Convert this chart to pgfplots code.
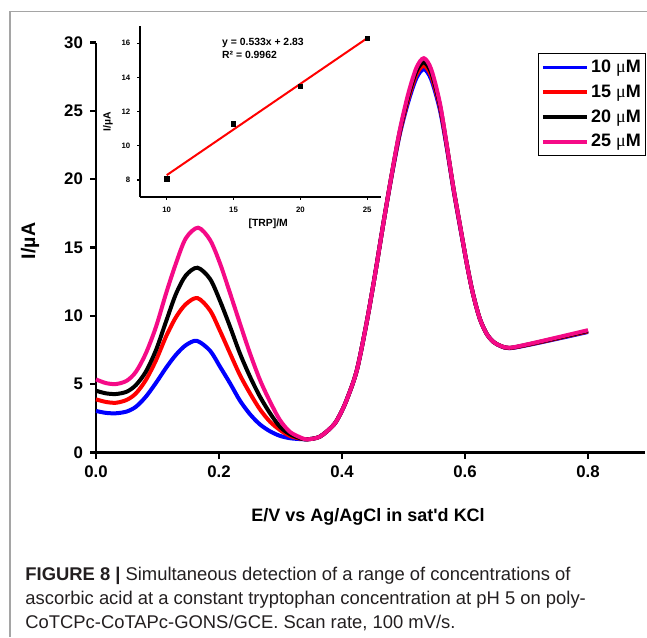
\documentclass[border=0pt]{standalone}
\usepackage{fontspec}
\setmainfont{Liberation Sans}
\newfontfamily\symf{Liberation Serif}
\usepackage{pgfplots}
\usepackage{pgfplotstable}
\pgfplotsset{compat=1.18}
\definecolor{cblue}{RGB}{0,0,255}
\definecolor{cred}{RGB}{255,0,0}
\definecolor{cpink}{RGB}{245,10,135}
\definecolor{framegray}{RGB}{165,165,165}
\definecolor{captext}{RGB}{35,31,32}
\newcommand{\mum}{{\symf\mdseries μ}M}

\pgfplotstableread{
x y
0 3.04
0.016 2.9
0.0325 2.87
0.05 3.0
0.065 3.35
0.081 4.08
0.0976 5.1
0.114 6.2
0.130 7.15
0.146 7.85
0.164 8.17
0.1854 7.45
0.2016 6.28
0.218 5.06
0.234 3.8
0.2504 2.8
0.2667 2.05
0.283 1.55
0.299 1.22
0.315 1.05
0.332 0.98
0.343 0.96
0.364 1.16
0.386 2.0
0.397 2.8
0.408 3.9
0.424 6.0
0.440 9.5
0.454 13.1
0.467 16.7
0.481 20.3
0.494 23.3
0.508 25.7
0.521 27.4
0.533 28.05
0.545 27.3
0.559 25.1
0.570 22.4
0.581 19.3
0.592 16.5
0.603 13.8
0.613 11.6
0.624 9.8
0.635 8.7
0.646 8.1
0.658 7.78
0.672 7.63
0.70 7.84
0.75 8.32
0.80 8.82
}\blue

\pgfplotstableread{
x y
0 3.89
0.016 3.7
0.0325 3.64
0.05 3.85
0.065 4.33
0.081 5.3
0.0976 6.75
0.114 8.5
0.130 9.9
0.146 10.85
0.165 11.3
0.1854 10.4
0.2016 8.9
0.218 7.25
0.234 5.67
0.2504 4.33
0.2667 3.15
0.283 2.25
0.299 1.65
0.315 1.22
0.332 1.02
0.343 0.96
0.364 1.16
0.386 2.0
0.397 2.8
0.408 3.9
0.424 6.0
0.440 9.5
0.454 13.1
0.467 16.7
0.481 20.35
0.494 23.4
0.508 25.9
0.521 27.65
0.533 28.3
0.545 27.55
0.559 25.3
0.570 22.5
0.581 19.35
0.592 16.55
0.603 13.8
0.613 11.6
0.624 9.8
0.635 8.7
0.646 8.1
0.658 7.79
0.672 7.64
0.70 7.86
0.75 8.35
0.80 8.86
}\red

\pgfplotstableread{
x y
0 4.52
0.016 4.33
0.0325 4.28
0.05 4.45
0.065 4.94
0.081 5.91
0.0976 7.5
0.114 9.6
0.130 11.6
0.146 12.95
0.165 13.52
0.1854 12.7
0.2016 11.1
0.218 9.2
0.234 7.25
0.2504 5.55
0.2667 4.08
0.283 2.87
0.299 1.89
0.315 1.35
0.332 1.04
0.343 0.96
0.364 1.16
0.386 2.0
0.397 2.8
0.408 3.9
0.424 6.0
0.440 9.5
0.454 13.1
0.467 16.7
0.481 20.4
0.494 23.5
0.508 26.1
0.521 27.9
0.533 28.55
0.545 27.8
0.559 25.45
0.570 22.55
0.581 19.4
0.592 16.6
0.603 13.8
0.613 11.6
0.624 9.8
0.635 8.7
0.646 8.1
0.658 7.8
0.672 7.65
0.70 7.88
0.75 8.38
0.80 8.9
}\black

\pgfplotstableread{
x y
0 5.35
0.016 5.08
0.0325 5.01
0.05 5.25
0.065 5.91
0.081 7.25
0.0976 9.2
0.114 11.65
0.130 13.84
0.146 15.67
0.166 16.45
0.1854 15.55
0.2016 13.84
0.218 11.65
0.234 9.45
0.2504 7.25
0.2667 5.3
0.283 3.72
0.299 2.38
0.315 1.52
0.332 1.11
0.343 0.96
0.364 1.16
0.386 2.0
0.397 2.8
0.408 3.9
0.424 6.0
0.440 9.5
0.454 13.1
0.467 16.7
0.481 20.4
0.494 23.6
0.508 26.3
0.521 28.15
0.533 28.85
0.545 28.05
0.559 25.6
0.570 22.6
0.581 19.4
0.592 16.6
0.603 13.8
0.613 11.6
0.624 9.8
0.635 8.7
0.646 8.1
0.658 7.8
0.672 7.66
0.70 7.9
0.75 8.42
0.80 8.95
}\pink

\pgfplotstableread{
x y
10 8.06
15 11.27
20 13.49
25 16.3
}\inset

\begin{document}
\begin{tikzpicture}
\useasboundingbox (0pt,0pt) rectangle (323.5pt,318.5pt);
\fill[white] (0pt,0pt) rectangle (323.5pt,318.5pt);
\draw[framegray, line width=0.9pt] (5pt,0pt) -- (5pt,312.75pt) -- (323.5pt,312.75pt);

\begin{axis}[
  at={(48pt,92.25pt)}, anchor=south west,
  scale only axis, width=274.6pt, height=205pt,
  xmin=0, xmax=0.893, ymin=0, ymax=30,
  axis x line*=bottom, axis y line*=left,
  axis line style={line width=1.4pt, black},
  xtick={0,0.2,0.4,0.6,0.8}, xticklabels={0.0,0.2,0.4,0.6,0.8},
  ytick={0,5,10,15,20,25,30}, yticklabels={0,5,10,15,20,25,30},
  tick align=outside, major tick length=3pt,
  tick style={line width=1.2pt, black},
  /pgf/number format/assume math mode=true,
  tick label style={font=\bfseries\fontsize{8.4}{9}\selectfont},
  xlabel={E/V vs Ag/AgCl in sat\textquotesingle d KCl},
  ylabel={I/\textmu A},
  xlabel style={at={(axis description cs:0.4954,-0.157)}, anchor=center, font=\bfseries\fontsize{9}{10}\selectfont},
  ylabel style={at={(axis description cs:-0.120,0.516)}, anchor=center, font=\bfseries\fontsize{9.8}{11}\selectfont},
  legend style={at={(axis description cs:0.805,0.974)}, anchor=north west,
    draw=black, line width=0.6pt, inner sep=1.2pt, row sep=1.2pt,
    font=\bfseries\fontsize{9}{10}\selectfont,
    nodes={inner sep=1.2pt, text height=7pt, text depth=1.8pt}},
  legend cell align=left,
  legend image code/.code={\draw[#1, line width=1.8pt] (0pt,0pt) -- (22pt,0pt);},
  clip=false,
]
\addplot[cblue, line width=2pt, smooth] table[x=x,y=y]{\blue};
\addlegendentry{10 \mum}
\addplot[cred, line width=2pt, smooth] table[x=x,y=y]{\red};
\addlegendentry{15 \mum}
\addplot[black, line width=2pt, smooth] table[x=x,y=y]{\black};
\addlegendentry{20 \mum}
\addplot[cpink, line width=2pt, smooth] table[x=x,y=y]{\pink};
\addlegendentry{25 \mum}
\end{axis}

\begin{axis}[
  at={(70pt,220pt)}, anchor=south west,
  scale only axis, width=120.3pt, height=85.4pt,
  xmin=8, xmax=26, ymin=7, ymax=17,
  axis x line*=bottom, axis y line*=left,
  axis line style={line width=1pt, black},
  xtick={10,15,20,25}, ytick={8,10,12,14,16},
  tick align=outside, major tick length=1.3pt,
  tick style={line width=0.6pt, black},
  /pgf/number format/assume math mode=true,
  tick label style={font=\bfseries\fontsize{3.9}{4.5}\selectfont},
  xlabel={[TRP]/M}, ylabel={I/\textmu A},
  xlabel style={at={(axis description cs:0.533,-0.156)}, anchor=center, font=\bfseries\fontsize{5.2}{6}\selectfont},
  ylabel style={at={(axis description cs:-0.133,0.441)}, anchor=center, font=\bfseries\fontsize{5.2}{6}\selectfont},
  clip=false,
]
\addplot[cred, line width=1pt] coordinates {(10,8.28) (25,16.3)};
\addplot[only marks, mark=square*, mark size=1.1pt, black] table[x=x,y=y]{\inset};
\node[anchor=west, inner sep=0pt, font=\bfseries\fontsize{5.2}{6}\selectfont] at (axis cs:14.12,16.04) {y = 0.533x + 2.83};
\node[anchor=west, inner sep=0pt, font=\bfseries\fontsize{5.2}{6}\selectfont] at (axis cs:14.12,15.31) {R² = 0.9962};
\end{axis}

\begin{scope}[every node/.style={anchor=base west, inner sep=0pt, text=captext, font=\fontsize{9.2}{11}\selectfont}]
\node at (12.5pt,28.5pt) {\textbf{FIGURE 8 |} Simultaneous detection of a range of concentrations of};
\node at (12.5pt,16.5pt) {ascorbic acid at a constant tryptophan concentration at pH 5 on poly-};
\node at (12.5pt,4.5pt) {CoTCPc-CoTAPc-GONS/GCE. Scan rate, 100 mV/s.};
\end{scope}
\end{tikzpicture}
\end{document}
